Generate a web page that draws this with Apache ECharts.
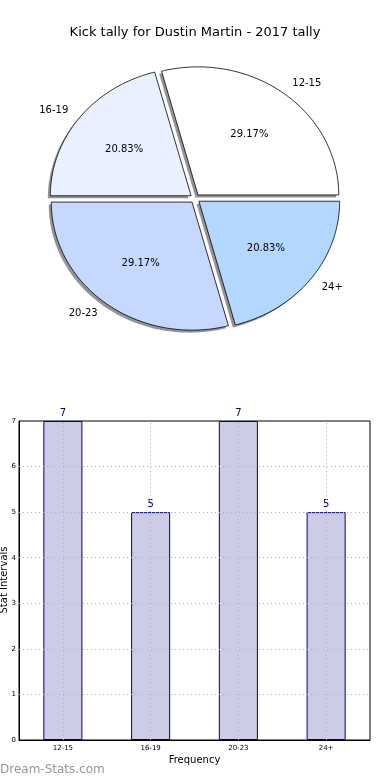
<!DOCTYPE html>
<html>
<head>
<meta charset="utf-8">
<script src="https://cdn.jsdelivr.net/npm/echarts@6/dist/echarts.min.js"></script>
<style>
html,body{margin:0;padding:0;background:#fff;}
#main{width:390px;height:780px;}
</style>
</head>
<body>
<div id="main"></div>
<script>
const titleText = 'Kick tally for Dustin Martin - 2017 tally';
const categories = ['12-15', '16-19', '20-23', '24+'];
const counts = [7, 5, 7, 5];
const pieColors = ['#ffffff', '#e9f0ff', '#c6d8ff', '#b4d7ff'];
const yTicks = [0, 1, 2, 3, 4, 5, 6, 7];
const gridTicks = [1, 2, 3, 4, 5, 6];

const total = counts.reduce((a, b) => a + b, 0);
const EXPLODE = 0.035;
const FONT = 'DejaVu Sans';

function renderSlice(params, api) {
  const i = params.dataIndex;
  let start = 0;
  for (let j = 0; j < i; j++) start += counts[j];
  const a0 = start / total * Math.PI * 2;
  const a1 = (start + counts[i]) / total * Math.PI * 2;
  const mid = (a0 + a1) / 2;
  const ex = EXPLODE * Math.cos(mid), ey = EXPLODE * Math.sin(mid);
  const pts = [api.coord([ex, ey])];
  const N = 80;
  for (let k = 0; k <= N; k++) {
    const a = a0 + (a1 - a0) * k / N;
    pts.push(api.coord([ex + Math.cos(a), ey + Math.sin(a)]));
  }
  const shadowPts = pts.map(p => [p[0] - 2.5, p[1] + 2.5]);
  const pc = api.coord([ex + 0.6 * Math.cos(mid), ey + 0.6 * Math.sin(mid)]);
  const lc = api.coord([ex + 1.1 * Math.cos(mid), ey + 1.1 * Math.sin(mid)]);
  const pct = (counts[i] / total * 100).toFixed(2) + '%';
  return {
    type: 'group',
    children: [
      { type: 'polygon', z2: 1, shape: { points: shadowPts }, style: { fill: 'rgba(0,0,0,0.42)', stroke: null } },
      { type: 'polygon', z2: 10, shape: { points: pts }, style: { fill: pieColors[i], stroke: '#000', lineWidth: 0.8 } },
      { type: 'text', z2: 20, x: pc[0], y: pc[1], style: { text: pct, fill: '#000', font: '10px "' + FONT + '"', align: 'center', verticalAlign: 'middle' } },
      { type: 'text', z2: 20, x: lc[0], y: lc[1], style: { text: categories[i], fill: '#000', font: '10px "' + FONT + '"', align: Math.cos(mid) >= 0 ? 'left' : 'right', verticalAlign: 'middle' } }
    ]
  };
}

const chart = echarts.init(document.getElementById('main'), null, { renderer: 'canvas' });
const option = {
  animation: false,
  backgroundColor: '#ffffff',
  textStyle: { fontFamily: FONT },
  title: {
    text: titleText,
    left: 'center',
    top: 21,
    textStyle: { fontFamily: FONT, fontSize: 13, fontWeight: 'normal', color: '#000' }
  },
  graphic: [
    { type: 'text', left: 0, top: 764, style: { text: 'Dream-Stats.com', fill: '#959595', font: '12px "' + FONT + '"' } },
    { type: 'text', x: 4, y: 580, rotation: Math.PI / 2, style: { text: 'Stat Intervals', fill: '#000', font: '10px "' + FONT + '"', align: 'center', verticalAlign: 'middle' } }
  ],
  grid: [
    { left: 12, width: 366, top: 32, height: 333, show: false, outerBoundsMode: 'none', containLabel: false },
    { left: 19, right: 20, top: 421, bottom: 40, show: true, borderColor: '#000', borderWidth: 1, backgroundColor: 'transparent', outerBoundsMode: 'none', containLabel: false }
  ],
  xAxis: [
    { gridIndex: 0, type: 'value', min: -1.3, max: 1.3, show: false },
    {
      gridIndex: 1, type: 'category', data: categories,
      name: 'Frequency', nameLocation: 'middle', nameGap: 15,
      nameTextStyle: { fontFamily: FONT, fontSize: 10, color: '#000' },
      axisLine: { lineStyle: { color: '#000', width: 1 } },
      axisTick: { show: false },
      axisLabel: { fontFamily: FONT, fontSize: 7, color: '#000', margin: 5 },
      splitLine: { show: false }
    }
  ],
  yAxis: [
    { gridIndex: 0, type: 'value', min: -1.3, max: 1.3, show: false },
    {
      gridIndex: 1, type: 'value', min: yTicks[0], max: yTicks[yTicks.length - 1], interval: 1,
      axisLine: { show: true, lineStyle: { color: '#000', width: 1 } },
      axisTick: { show: false },
      axisLabel: { fontFamily: FONT, fontSize: 7, color: '#000', margin: 3 },
      splitLine: { show: false }
    }
  ],
  series: [
    {
      type: 'custom',
      xAxisIndex: 0, yAxisIndex: 0,
      renderItem: renderSlice,
      data: counts.map((v, i) => ({ name: categories[i], value: [0, 0, v] })),
      silent: true
    },
    {
      type: 'bar',
      xAxisIndex: 1, yAxisIndex: 1,
      data: counts,
      barWidth: '44.5%',
      itemStyle: { color: '#ccccE6', borderColor: '#00008b', borderWidth: 1 },
      label: { show: true, position: 'top', distance: 3, fontFamily: FONT, fontSize: 10, color: '#00008b' },
      markLine: {
        silent: true,
        symbol: ['none', 'none'],
        label: { show: false },
        lineStyle: { color: '#b0b0b0', type: [1, 3], width: 1 },
        data: categories.map(c => ({ xAxis: c })).concat(gridTicks.map(v => ({ yAxis: v })))
      }
    }
  ]
};
chart.setOption(option);
</script>
</body>
</html>
